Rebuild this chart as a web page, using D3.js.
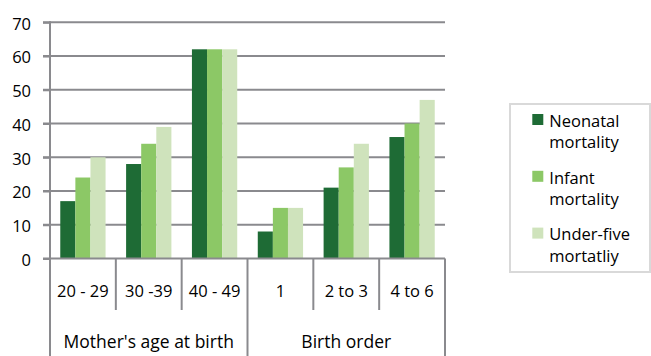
<!DOCTYPE html>
<html>
<head>
<meta charset="utf-8">
<script src="https://cdn.jsdelivr.net/npm/d3@7"></script>
<style>
  html, body { margin: 0; padding: 0; background: #fff; }
  svg text { font-family: "Open Sans", Lato, sans-serif; fill: #000; }
</style>
</head>
<body>
<svg id="chart" width="651" height="356"></svg>
<script>
const categories = ["20 - 29", "30 -39", "40 - 49", "1", "2 to 3", "4 to 6"];
const groups = [
  { label: "Mother's age at birth", cats: ["20 - 29", "30 -39", "40 - 49"] },
  { label: "Birth order", cats: ["1", "2 to 3", "4 to 6"] }
];
const seriesNames = ["Neonatal mortality", "Infant mortality", "Under-five mortatliy"];
const neonatal = [17, 28, 62, 8, 21, 36];
const infant = [24, 34, 62, 15, 27, 40];
const underFive = [30, 39, 62, 15, 34, 47];
const yTicks = [0, 10, 20, 30, 40, 50, 60, 70];
const colors = ["#1e6b35", "#8cc866", "#cfe3bc"];
const legendLines = [["Neonatal", "mortality"], ["Infant", "mortality"], ["Under-five", "mortatliy"]];

const seriesValues = [neonatal, infant, underFive];
const svg = d3.select("#chart");
const mLeft = 50, mRight = 445, mTop = 22.3, mBottom = 258.5;

const x = d3.scaleBand().domain(categories).range([mLeft, mRight]).paddingInner(0).paddingOuter(0);
const xs = d3.scaleBand().domain(seriesNames).range([0, x.bandwidth()]).paddingInner(0).paddingOuter(0.68);
const y = d3.scaleLinear().domain([0, 70]).range([mBottom, mTop]);

const gridColor = "#8a8a8e";

// gridlines
svg.append("g").selectAll("line").data(yTicks.filter(d => d > 0)).join("line")
  .attr("x1", mLeft - 7).attr("x2", mRight)
  .attr("y1", d => y(d)).attr("y2", d => y(d))
  .attr("stroke", gridColor).attr("stroke-width", 2);

// bars
seriesNames.forEach((s, si) => {
  svg.append("g").selectAll("rect").data(categories).join("rect")
    .attr("x", c => x(c) + xs(s))
    .attr("width", xs.bandwidth())
    .attr("y", (c, i) => y(seriesValues[si][i]))
    .attr("height", (c, i) => y(0) - y(seriesValues[si][i]))
    .attr("fill", colors[si]);
});

// y axis
const yAxis = d3.axisLeft(y).tickValues(yTicks).tickSize(7).tickPadding(12).tickFormat(d3.format("d"));
const ya = svg.append("g").attr("transform", `translate(${mLeft},0)`).call(yAxis);
ya.select(".domain").remove();
ya.selectAll(".tick line").attr("stroke", gridColor).attr("stroke-width", 2);
ya.selectAll(".tick text").attr("font-size", 16.5).attr("font-family", null)
  .attr("fill", "#000").attr("dy", "0.42em");

// y axis line
svg.append("line").attr("x1", mLeft).attr("x2", mLeft).attr("y1", mTop - 1).attr("y2", 356)
  .attr("stroke", gridColor).attr("stroke-width", 2);
// baseline
svg.append("line").attr("x1", mLeft - 7).attr("x2", mRight).attr("y1", mBottom).attr("y2", mBottom)
  .attr("stroke", gridColor).attr("stroke-width", 2);

// category separators
categories.forEach((c, i) => {
  const xx = x(c) + x.bandwidth();
  const isGroupEnd = (i === 2 || i === 5);
  svg.append("line").attr("x1", xx).attr("x2", xx).attr("y1", mBottom).attr("y2", isGroupEnd ? 356 : 310)
    .attr("stroke", gridColor).attr("stroke-width", 2);
});

// category labels
svg.append("g").selectAll("text").data(categories).join("text")
  .attr("x", c => x(c) + x.bandwidth() / 2)
  .attr("y", 296.7)
  .attr("text-anchor", "middle")
  .attr("font-size", 16.5)
  .text(c => c);

// group labels
groups.forEach(g => {
  const x0 = x(g.cats[0]), x1 = x(g.cats[g.cats.length - 1]) + x.bandwidth();
  svg.append("text").attr("x", (x0 + x1) / 2).attr("y", 347.7)
    .attr("text-anchor", "middle").attr("font-size", 17.5).text(g.label);
});

// legend
const lg = svg.append("g");
lg.append("rect").attr("x", 510).attr("y", 104).attr("width", 140).attr("height", 168)
  .attr("fill", "#fff").attr("stroke", "#d9d9d9").attr("stroke-width", 2);
seriesNames.forEach((s, i) => {
  const yy = 114 + i * 56.8;
  lg.append("rect").attr("x", 532.3).attr("y", yy).attr("width", 11).attr("height", 11).attr("fill", colors[i]);
  lg.append("text").attr("x", 549.3).attr("y", yy + 12.7).attr("font-size", 16.5).text(legendLines[i][0]);
  lg.append("text").attr("x", 549.3).attr("y", yy + 34.3).attr("font-size", 16.5).text(legendLines[i][1]);
});
</script>
</body>
</html>
